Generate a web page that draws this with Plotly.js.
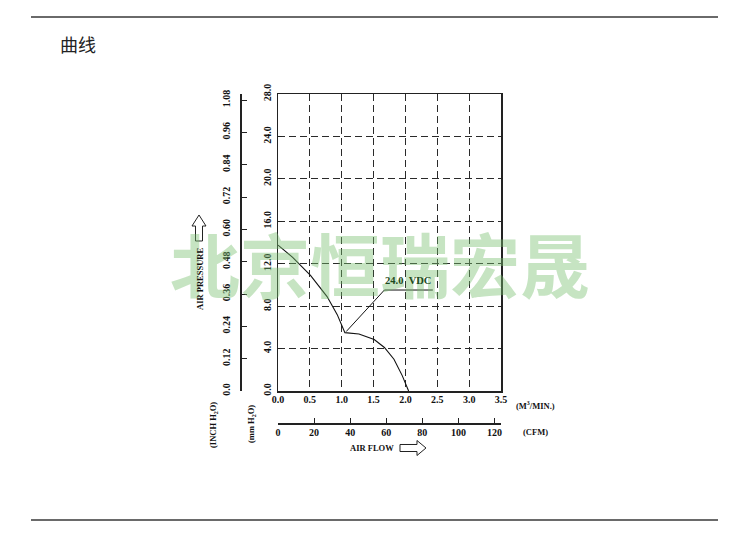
<!DOCTYPE html>
<html>
<head>
<meta charset="utf-8">
<script src="https://cdn.plot.ly/plotly-3.0.1.min.js"></script>
<style>html,body{margin:0;padding:0;background:#fff;}#chart{width:750px;height:554px;}</style>
</head>
<body>
<div id="chart"></div>
<script>
// ---- data ----
const flowM3 = [0, 0.23, 0.51, 0.77, 0.93, 1.05, 1.27, 1.51, 1.67, 1.82, 1.95, 2.05];
const pressureMm = [13.76, 12.6, 10.9, 8.9, 7.2, 5.5, 5.37, 4.85, 4.1, 3.0, 1.45, 0];
const leaderX = [1.07, 1.67, 2.43];
const leaderY = [5.6, 9.52, 9.52];
const curveLabel = "24.0&nbsp;&nbsp;VDC";
const xTicks = [0, 0.5, 1.0, 1.5, 2.0, 2.5, 3.0, 3.5];
const xTickText = ["0.0", "0.5", "1.0", "1.5", "2.0", "2.5", "3.0", "3.5"];
const yTicks = [0, 4, 8, 12, 16, 20, 24, 28];
const yTickText = ["0.0", "4.0", "8.0", "12.0", "16.0", "20.0", "24.0", "28.0"];
const inchTicks = [0, 0.12, 0.24, 0.36, 0.48, 0.60, 0.72, 0.84, 0.96, 1.08];
const inchTickText = ["0.0", "0.12", "0.24", "0.36", "0.48", "0.60", "0.72", "0.84", "0.96", "1.08"];
const cfmTicks = [0, 20, 40, 60, 80, 100, 120];
const cfmTickText = ["0", "20", "40", "60", "80", "100", "120"];
const CFM_PER_M3MIN = 35.3147;
const MM_PER_INCH = 25.4;

// ---- geometry helpers ----
const W = 750, H = 554;
const ML = 200, MR = 249, MT = 94, MB = 100;
const PW = W - ML - MR, PH = H - MT - MB;
const px = v => (v - ML) / PW;
const py = v => (H - MB - v) / PH;
const pathFromPx = pts => pts.map((p, i) => (i ? 'L' : 'M') + px(p[0]).toFixed(5) + ',' + py(p[1]).toFixed(5)).join(' ') + ' Z';

const FAM = '"Liberation Serif", "DejaVu Serif", serif';
const serif = {family: FAM, size: 10, color: '#111', weight: 'bold'};
const cap = {family: FAM, size: 8.5, color: '#111', weight: 'bold'};

const traces = [
  {x: flowM3, y: pressureMm, type: 'scatter', mode: 'lines', line: {color: '#111', width: 1.1}, xaxis: 'x', yaxis: 'y', hoverinfo: 'skip'},
  {x: leaderX, y: leaderY, type: 'scatter', mode: 'lines', line: {color: '#111', width: 1}, xaxis: 'x', yaxis: 'y', hoverinfo: 'skip'},
  // same curve in CFM / inch H2O units, invisible, so the secondary axes are drawn
  {x: flowM3.map(v => v * CFM_PER_M3MIN), y: pressureMm.map(v => v / MM_PER_INCH), type: 'scatter', mode: 'lines',
   line: {color: 'rgba(0,0,0,0)', width: 0}, xaxis: 'x2', yaxis: 'y2', hoverinfo: 'skip'}
];

const layout = {
  width: W, height: H,
  margin: {l: ML, r: MR, t: MT, b: MB},
  paper_bgcolor: '#fff', plot_bgcolor: 'rgba(0,0,0,0)',
  showlegend: false,
  xaxis: {
    domain: [px(278), px(501)], anchor: 'y', range: [0, 3.5],
    tickvals: xTicks, ticktext: xTickText, tickfont: serif, ticks: '', ticklabelstandoff: -2,
    showline: true, mirror: true, linecolor: '#222', linewidth: 1.5,
    showgrid: true, gridcolor: '#2a2a2a', gridwidth: 1, griddash: '7px,4px', zeroline: false
  },
  yaxis: {
    domain: [py(391), py(94)], anchor: 'x', range: [0, 28],
    tickvals: yTicks, ticktext: yTickText, tickfont: serif, tickangle: -90,
    ticks: 'inside', ticklen: 4, tickcolor: '#222', ticklabelstandoff: 2,
    showline: true, mirror: true, linecolor: '#222', linewidth: 1.5,
    showgrid: true, gridcolor: '#2a2a2a', gridwidth: 1, griddash: '7px,4px', zeroline: false
  },
  yaxis2: {
    overlaying: 'y', anchor: 'free', position: px(240), side: 'left',
    range: [0, 28 / MM_PER_INCH], tickvals: inchTicks, ticktext: inchTickText, tickfont: serif, tickangle: -90,
    ticks: 'inside', ticklen: 5, tickcolor: '#222', ticklabelstandoff: 6,
    showline: true, linecolor: '#222', linewidth: 1.5, showgrid: false, zeroline: false
  },
  xaxis2: {
    overlaying: 'x', anchor: 'free', position: py(423), side: 'bottom',
    range: [0, 3.5 * CFM_PER_M3MIN], tickvals: cfmTicks, ticktext: cfmTickText, tickfont: serif,
    ticks: 'inside', ticklen: 5, tickcolor: '#222', ticklabelstandoff: -1,
    showline: true, linecolor: '#222', linewidth: 1.5, showgrid: false, zeroline: false
  },
  shapes: [
    {type: 'line', xref: 'paper', yref: 'paper', x0: px(31), x1: px(718), y0: py(17), y1: py(17), line: {color: '#6a6a6a', width: 2}},
    {type: 'line', xref: 'paper', yref: 'paper', x0: px(31), x1: px(718), y0: py(520), y1: py(520), line: {color: '#6a6a6a', width: 2}},
    {type: 'path', xref: 'paper', yref: 'paper', line: {color: '#222', width: 1}, fillcolor: '#fff',
     path: pathFromPx([[400, 444.5], [417, 444.5], [417, 440.5], [426, 448], [417, 455.5], [417, 451.5], [400, 451.5]])},
    {type: 'path', xref: 'paper', yref: 'paper', line: {color: '#222', width: 1}, fillcolor: '#fff',
     path: pathFromPx([[195.5, 241], [195.5, 226], [192, 226], [199, 215], [206, 226], [202.5, 226], [202.5, 241]])}
  ],
  annotations: [
    {text: '北京恒瑞宏晟', xref: 'paper', yref: 'paper', x: px(380), y: py(262), xanchor: 'center', yanchor: 'middle', showarrow: false,
     font: {family: '"Noto Sans CJK SC", sans-serif', size: 70, color: 'rgba(120,190,110,0.42)', weight: 'bold'}},
    {text: '曲线', xref: 'paper', yref: 'paper', x: px(58), y: py(44), xanchor: 'left', yanchor: 'middle', showarrow: false,
     font: {family: '"Noto Sans CJK SC", sans-serif', size: 18, color: '#222'}},
    {text: curveLabel, xref: 'x', yref: 'y', x: 2.04, y: 10.4, xanchor: 'center', yanchor: 'middle', showarrow: false,
     font: {family: FAM, size: 10.5, color: '#1d4a1d', weight: 'bold'}},
    {text: '(M<sup>3</sup>/MIN.)', xref: 'paper', yref: 'paper', x: px(514), y: py(405), xanchor: 'left', yanchor: 'middle', showarrow: false, font: cap},
    {text: '(CFM)', xref: 'paper', yref: 'paper', x: px(521), y: py(432), xanchor: 'left', yanchor: 'middle', showarrow: false, font: cap},
    {text: 'AIR FLOW', xref: 'paper', yref: 'paper', x: px(372), y: py(448), xanchor: 'center', yanchor: 'middle', showarrow: false, font: cap},
    {text: 'AIR PRESSURE', xref: 'paper', yref: 'paper', x: px(200), y: py(279), xanchor: 'center', yanchor: 'middle', textangle: -90, showarrow: false, font: cap},
    {text: '(INCH H<sub>2</sub>O)', xref: 'paper', yref: 'paper', x: px(213), y: py(425), xanchor: 'center', yanchor: 'middle', textangle: -90, showarrow: false, font: cap},
    {text: '(mm H<sub>2</sub>O)', xref: 'paper', yref: 'paper', x: px(251), y: py(424), xanchor: 'center', yanchor: 'middle', textangle: -90, showarrow: false, font: cap}
  ]
};

Plotly.newPlot('chart', traces, layout, {staticPlot: true, displayModeBar: false});
</script>
</body>
</html>
